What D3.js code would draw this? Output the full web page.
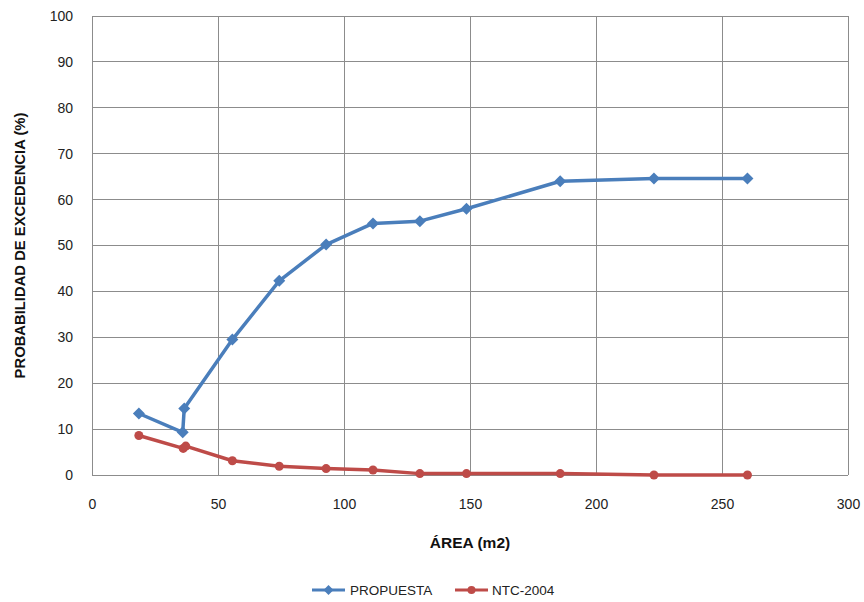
<!DOCTYPE html>
<html><head><meta charset="utf-8">
<script src="https://cdn.jsdelivr.net/npm/d3@7"></script>
<style>body{margin:0;background:#fff}svg{display:block}</style>
</head><body>
<script>
const xTicks = [0, 50, 100, 150, 200, 250, 300];
const yTicks = [0, 10, 20, 30, 40, 50, 60, 70, 80, 90, 100];
const propuestaX = [18.6, 36.0, 36.6, 55.7, 74.3, 92.9, 111.5, 130.1, 148.6, 185.8, 223.0, 260.1];
const propuestaY = [13.4, 9.3, 14.5, 29.5, 42.3, 50.2, 54.8, 55.3, 58.0, 64.0, 64.6, 64.6];
const ntcX = [18.6, 36.2, 37.2, 55.7, 74.3, 92.9, 111.5, 130.1, 148.6, 185.8, 223.0, 260.1];
const ntcY = [8.6, 5.8, 6.3, 3.1, 1.9, 1.4, 1.1, 0.3, 0.3, 0.3, 0.0, 0.0];
const seriesNames = ["PROPUESTA", "NTC-2004"];
const colors = ["#4A7EBB", "#BE4B48"];

const W = 864, H = 602;
const svg = d3.select("body").append("svg").attr("width", W).attr("height", H);
const x = d3.scaleLinear().domain([0, 300]).range([92, 848]);
const y = d3.scaleLinear().domain([0, 100]).range([475, 16]);
const font = "'Liberation Sans', Arial, sans-serif";

// grid
svg.append("g").selectAll("line.v").data(xTicks).join("line")
  .attr("x1", d => x(d)).attr("x2", d => x(d)).attr("y1", y(0)).attr("y2", y(100))
  .attr("stroke", "#8c8c8c").attr("stroke-width", 1).attr("shape-rendering", "crispEdges");
svg.append("g").selectAll("line.h").data(yTicks).join("line")
  .attr("x1", x(0)).attr("x2", x(300)).attr("y1", d => y(d)).attr("y2", d => y(d))
  .attr("stroke", "#8c8c8c").attr("stroke-width", 1).attr("shape-rendering", "crispEdges");

// axes
const gx = svg.append("g").attr("transform", `translate(0,${y(0)})`)
  .call(d3.axisBottom(x).tickValues(xTicks).tickSize(0).tickPadding(24));
gx.select(".domain").remove();
gx.selectAll("text").attr("font-family", font).attr("font-size", 14).attr("fill", "#222");
const gy = svg.append("g").attr("transform", `translate(${x(0)},0)`)
  .call(d3.axisLeft(y).tickValues(yTicks).tickSize(0).tickPadding(19));
gy.select(".domain").remove();
gy.selectAll("text").attr("font-family", font).attr("font-size", 14).attr("fill", "#222");

const diamondPath = r => `M0,${-r}L${r},0L0,${r}L${-r},0Z`;

// series
const series = [
  {name: seriesNames[0], color: colors[0], pts: propuestaX.map((v, i) => [v, propuestaY[i]]), shape: "diamond"},
  {name: seriesNames[1], color: colors[1], pts: ntcX.map((v, i) => [v, ntcY[i]]), shape: "circle"}
];
const line = d3.line().x(d => x(d[0])).y(d => y(d[1]));
series.forEach(s => {
  svg.append("path").datum(s.pts).attr("d", line).attr("fill", "none")
    .attr("stroke", s.color).attr("stroke-width", 3.5).attr("stroke-linejoin", "round");
  const g = svg.append("g");
  if (s.shape === "diamond") {
    g.selectAll("path").data(s.pts).join("path").attr("d", diamondPath(6))
      .attr("transform", d => `translate(${x(d[0])},${y(d[1])})`).attr("fill", s.color);
  } else {
    g.selectAll("circle").data(s.pts).join("circle")
      .attr("cx", d => x(d[0])).attr("cy", d => y(d[1])).attr("r", 4.5).attr("fill", s.color);
  }
});

// titles
svg.append("text").attr("x", x(150)).attr("y", 548).attr("text-anchor", "middle")
  .attr("font-family", font).attr("font-weight", "bold").attr("font-size", 15.5).attr("fill", "#111")
  .text("ÁREA (m2)");
svg.append("text").attr("transform", `translate(25,${(y(0) + y(100)) / 2}) rotate(-90)`)
  .attr("text-anchor", "middle").attr("font-family", font).attr("font-weight", "bold")
  .attr("font-size", 14.8).attr("fill", "#111").text("PROBABILIDAD DE EXCEDENCIA (%)");

// legend
const leg = [{x0: 312, tx: 350}, {x0: 455, tx: 492}];
series.forEach((s, i) => {
  const lx = leg[i].x0, ly = 590;
  svg.append("line").attr("x1", lx).attr("x2", lx + 33).attr("y1", ly).attr("y2", ly)
    .attr("stroke", s.color).attr("stroke-width", 3);
  if (s.shape === "diamond") {
    svg.append("path").attr("d", diamondPath(5))
      .attr("transform", `translate(${lx + 16.5},${ly})`).attr("fill", s.color);
  } else {
    svg.append("circle").attr("cx", lx + 16.5).attr("cy", ly).attr("r", 4).attr("fill", s.color);
  }
  svg.append("text").attr("x", leg[i].tx).attr("y", ly + 5).attr("font-family", font)
    .attr("font-size", 13.5).attr("fill", "#222").text(s.name);
});
</script>
</body></html>
